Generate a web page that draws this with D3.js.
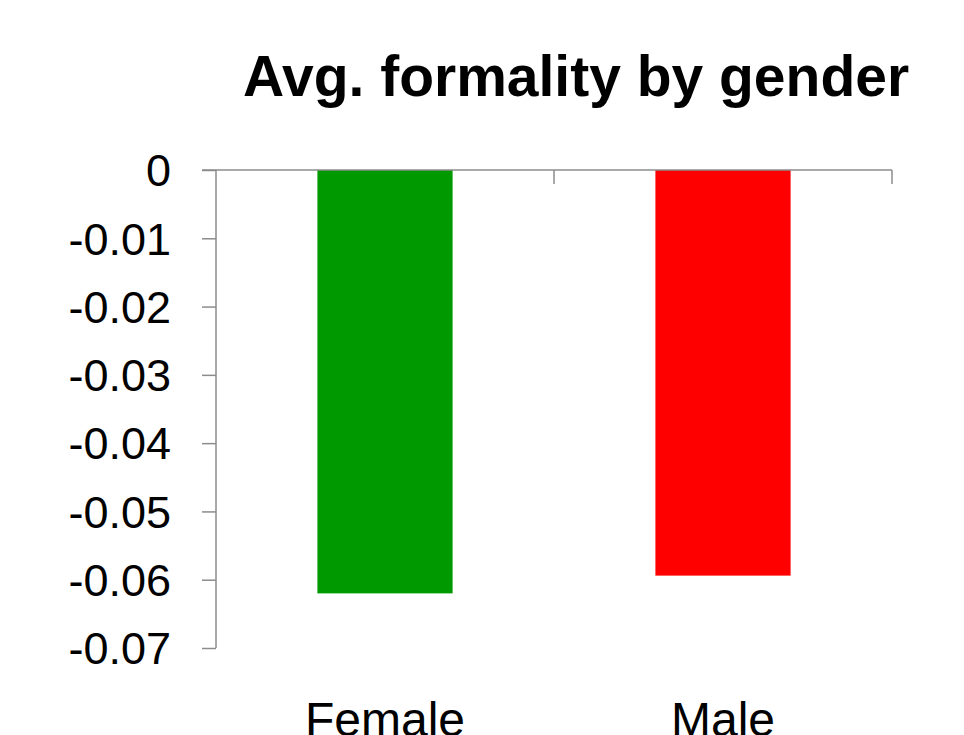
<!DOCTYPE html>
<html>
<head>
<meta charset="utf-8">
<script src="https://cdn.jsdelivr.net/npm/d3@7"></script>
<style>
  html, body { margin: 0; padding: 0; background: #fff; }
  svg { display: block; }
  text { font-family: "Liberation Sans", Arial, sans-serif; fill: #000; }
</style>
</head>
<body>
<svg id="chart" width="964" height="735"></svg>
<script>
// Average formality score per gender
const categories = ["Female", "Male"];
const values = [-0.0620, -0.0594];
const colors = ["#009900", "#ff0000"];
const yTicks = [0, -0.01, -0.02, -0.03, -0.04, -0.05, -0.06, -0.07];
const titleText = "Avg. formality by gender";

const svg = d3.select("#chart");
const plotLeft = 216, plotRight = 892, plotTop = 170, plotBottom = 648;
const axisColor = "#8c8c8c";
const tickLen = 14;

const x = d3.scaleBand().domain(categories).range([plotLeft, plotRight]).paddingInner(0.6).paddingOuter(0.3);
const y = d3.scaleLinear().domain([0, -0.07]).range([plotTop, plotBottom]);

// Title
svg.append("text")
  .attr("x", 576).attr("y", 96)
  .attr("text-anchor", "middle")
  .style("font-size", "57px").style("font-weight", "bold")
  .text(titleText);

// Bars hang down from zero
svg.selectAll("rect.bar").data(categories).join("rect")
  .attr("class", "bar")
  .attr("x", d => x(d))
  .attr("width", x.bandwidth())
  .attr("y", y(0))
  .attr("height", (d, i) => y(values[i]) - y(0))
  .attr("fill", (d, i) => colors[i]);

// Y axis
const yAxis = svg.append("g").attr("transform", `translate(${plotLeft},0)`)
  .call(d3.axisLeft(y).tickValues(yTicks).tickSize(tickLen).tickPadding(28)
    .tickFormat(d => d === 0 ? "0" : d3.format(".2f")(d).replace("−", "-")));
yAxis.select(".domain").remove();
yAxis.append("line").attr("x1", 0).attr("x2", 0).attr("y1", plotTop).attr("y2", plotBottom)
  .attr("stroke", axisColor).attr("stroke-width", 1.5);
yAxis.selectAll(".tick line").attr("stroke", axisColor).attr("stroke-width", 1.5);
yAxis.selectAll(".tick text")
  .attr("x", -45)
  .attr("dy", "0.35em")
  .style("font-size", "45px").style("font-family", "'Liberation Sans', Arial, sans-serif");

// Category axis along the zero line, with boundary ticks between groups
svg.append("line")
  .attr("x1", plotLeft - tickLen).attr("x2", plotRight)
  .attr("y1", y(0)).attr("y2", y(0))
  .attr("stroke", axisColor).attr("stroke-width", 1.5);
svg.selectAll("line.btick").data([(plotLeft + plotRight) / 2, plotRight]).join("line")
  .attr("class", "btick")
  .attr("x1", d => d).attr("x2", d => d)
  .attr("y1", y(0)).attr("y2", y(0) + tickLen)
  .attr("stroke", axisColor).attr("stroke-width", 1.5);

// Category labels below the plot
svg.selectAll("text.cat").data(categories).join("text")
  .attr("class", "cat")
  .attr("x", d => x(d) + x.bandwidth() / 2)
  .attr("y", 736)
  .attr("text-anchor", "middle")
  .style("font-size", "48px")
  .text(d => d);
</script>
</body>
</html>
